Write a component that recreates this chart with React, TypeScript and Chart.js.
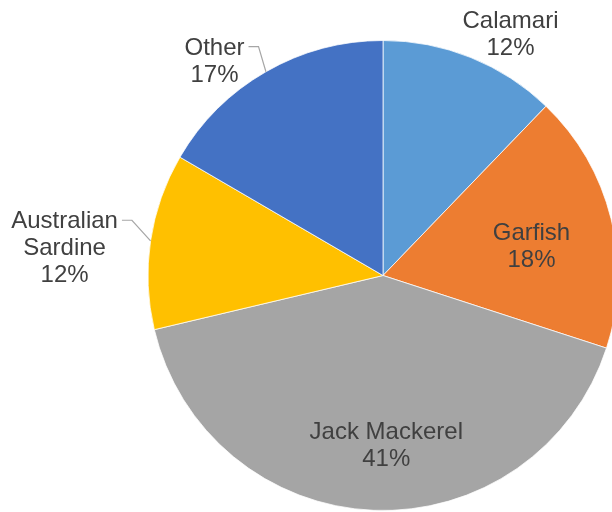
import React, { useEffect, useRef } from "react";
import { Chart, registerables } from "chart.js";

Chart.register(...registerables);

const categories = ["Calamari", "Garfish", "Jack Mackerel", "Australian Sardine", "Other"];
const shares = [12.2, 17.8, 41.3, 12.1, 16.6];
const colors = ["#5B9BD5", "#ED7D31", "#A5A5A5", "#FFC000", "#4472C4"];

// label placement (relative to pie centre, in units of radius) — first-line baseline, centred
const labelLines: string[][] = [["Calamari"], ["Garfish"], ["Jack Mackerel"], ["Australian", "Sardine"], ["Other"]];
const labelAnchors = [
  { dx: 0.5426, dy: -1.052, leader: false },
  { dx: 0.632, dy: -0.149, leader: false },
  { dx: 0.014, dy: 0.697, leader: false },
  { dx: -1.355, dy: -0.201, leader: true },
  { dx: -0.717, dy: -0.94, leader: true },
];

const FONT_SIZE = 24;
const LINE_H = 27;

const labelPlugin = {
  id: "pieLabels",
  afterDatasetsDraw(chart: any) {
    const ctx = chart.ctx as CanvasRenderingContext2D;
    const meta = chart.getDatasetMeta(0);
    const data = chart.data.datasets[0].data as number[];
    const total = data.reduce((a, b) => a + b, 0);
    ctx.save();
    ctx.font = `${FONT_SIZE}px "Liberation Sans", Arial, sans-serif`;
    ctx.fillStyle = "#404040";
    ctx.textAlign = "center";
    ctx.textBaseline = "alphabetic";
    meta.data.forEach((arc: any, i: number) => {
      const p = arc.getProps(["x", "y", "startAngle", "endAngle", "outerRadius"], true);
      const r = p.outerRadius;
      const lines = [...labelLines[i], Math.round((data[i] / total) * 100) + "%"];
      const a = labelAnchors[i];
      const tx = p.x + a.dx * r;
      const ty = p.y + a.dy * r;
      lines.forEach((ln, k) => ctx.fillText(ln, tx, ty + k * LINE_H));
      if (a.leader) {
        const mid = (p.startAngle + p.endAngle) / 2;
        const ex = p.x + Math.cos(mid) * r;
        const ey = p.y + Math.sin(mid) * r;
        let maxW = 0;
        labelLines[i].forEach((ln) => (maxW = Math.max(maxW, ctx.measureText(ln).width)));
        const w0 = ctx.measureText(labelLines[i][0]).width;
        const sx = tx + w0 / 2 + 4;
        const sy = ty - 8;
        ctx.beginPath();
        ctx.strokeStyle = "#A6A6A6";
        ctx.lineWidth = 1.2;
        ctx.moveTo(sx, sy);
        ctx.lineTo(sx + 10, sy);
        ctx.lineTo(ex, ey);
        ctx.stroke();
      }
    });
    ctx.restore();
  },
};

export default function App() {
  const ref = useRef<HTMLCanvasElement | null>(null);
  useEffect(() => {
    document.body.style.margin = "0";
    const chart = new Chart(ref.current!, {
      type: "pie",
      data: {
        labels: categories,
        datasets: [
          {
            data: shares,
            backgroundColor: colors,
            borderColor: "#ffffff",
            borderWidth: 0.75,
            radius: 235,
          } as any,
        ],
      },
      options: {
        responsive: false,
        animation: false,
        layout: { padding: { left: 154, right: 0, top: 39, bottom: 0 } },
        plugins: { legend: { display: false }, tooltip: { enabled: false } },
      },
      plugins: [labelPlugin],
    });
    return () => chart.destroy();
  }, []);
  return (
    <div style={{ position: "absolute", left: 0, top: 0, width: 612, height: 512, overflow: "hidden", background: "#fff" }}>
      <canvas ref={ref} width={612} height={512} style={{ width: 612, height: 512 }} />
    </div>
  );
}
